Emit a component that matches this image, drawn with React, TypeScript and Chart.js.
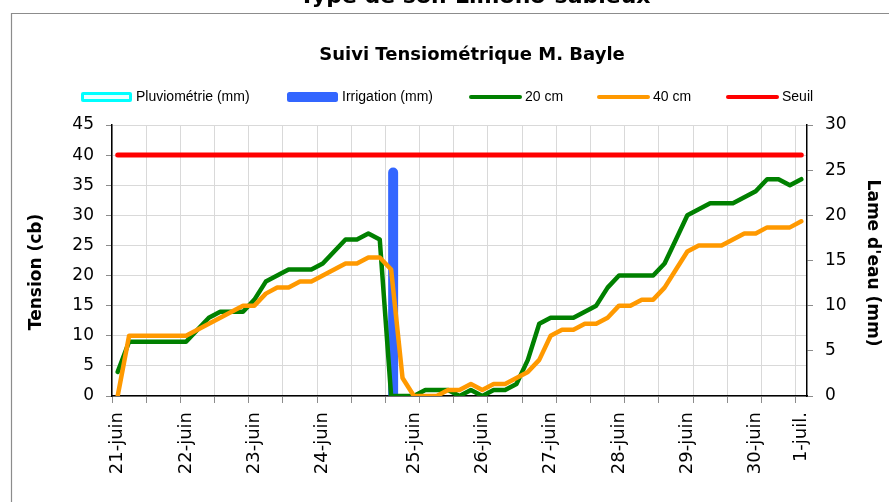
import React, { useEffect, useRef } from 'react';
import { Chart, registerables } from 'chart.js';

Chart.register(...registerables);

// 61 measurement slots (category axis); labels only where the date changes
const categories: string[] = [
  '21-juin', '', '', '', '', '', '22-juin', '', '', '',
  '', '', '23-juin', '', '', '', '', '', '24-juin', '',
  '', '', '', '', '', '', '25-juin', '', '', '',
  '', '', '26-juin', '', '', '', '', '', '27-juin', '',
  '', '', '', '', '28-juin', '', '', '', '', '',
  '29-juin', '', '', '', '', '', '30-juin', '', '', '',
  '1-juil.',
];

const tension20: number[] = [
  4, 9, 9, 9, 9, 9, 9, 11, 13, 14,
  14, 14, 16, 19, 20, 21, 21, 21, 22, 24,
  26, 26, 27, 26, 0, 0, 0, 1, 1, 1,
  0, 1, 0, 1, 1, 2, 6, 12, 13, 13,
  13, 14, 15, 18, 20, 20, 20, 20, 22, 26,
  30, 31, 32, 32, 32, 33, 34, 36, 36, 35,
  36,
];

const tension40: number[] = [
  0, 10, 10, 10, 10, 10, 10, 11, 12, 13,
  14, 15, 15, 17, 18, 18, 19, 19, 20, 21,
  22, 22, 23, 23, 21, 3, 0, 0, 0, 1,
  1, 2, 1, 2, 2, 3, 4, 6, 10, 11,
  11, 12, 12, 13, 15, 15, 16, 16, 18, 21,
  24, 25, 25, 25, 26, 27, 27, 28, 28, 28,
  29,
];

const seuil: number[] = [
  40, 40, 40, 40, 40, 40, 40, 40, 40, 40,
  40, 40, 40, 40, 40, 40, 40, 40, 40, 40,
  40, 40, 40, 40, 40, 40, 40, 40, 40, 40,
  40, 40, 40, 40, 40, 40, 40, 40, 40, 40,
  40, 40, 40, 40, 40, 40, 40, 40, 40, 40,
  40, 40, 40, 40, 40, 40, 40, 40, 40, 40,
  40,
];

const pluviometrie: number[] = [
  0, 0, 0, 0, 0, 0, 0, 0, 0, 0,
  0, 0, 0, 0, 0, 0, 0, 0, 0, 0,
  0, 0, 0, 0, 0, 0, 0, 0, 0, 0,
  0, 0, 0, 0, 0, 0, 0, 0, 0, 0,
  0, 0, 0, 0, 0, 0, 0, 0, 0, 0,
  0, 0, 0, 0, 0, 0, 0, 0, 0, 0,
  0,
];

const irrigation: (number | null)[] = [
  null, null, null, null, null, null, null, null, null, null,
  null, null, null, null, null, null, null, null, null, null,
  null, null, null, null, 25.3, null, null, null, null, null,
  null, null, null, null, null, null, null, null, null, null,
  null, null, null, null, null, null, null, null, null, null,
  null, null, null, null, null, null, null, null, null, null,
  null,
];

const leftTicks = { min: 0, max: 45, step: 5 };
const rightTicks = { min: 0, max: 30, step: 5 };

const COLORS = {
  pluvio: '#00FFFF',
  irrig: '#3366FF',
  g20: '#008000',
  g40: '#FF9900',
  seuil: '#FF0000',
};

const AXIS_FONT = 'DejaVu Sans';
const LEGEND_FONT = 'Liberation Sans';

const decorPlugin = {
  id: 'decor',
  beforeDraw(chart: any) {
    const ctx = chart.ctx as CanvasRenderingContext2D;
    ctx.save();
    ctx.fillStyle = '#ffffff';
    ctx.fillRect(0, 0, chart.width, chart.height);

    // frame of the chart object
    ctx.strokeStyle = '#8c8c8c';
    ctx.lineWidth = 1.2;
    ctx.beginPath();
    ctx.moveTo(11.5, chart.height + 5);
    ctx.lineTo(11.5, 13.5);
    ctx.lineTo(chart.width + 5, 13.5);
    ctx.stroke();

    // partially hidden sheet heading
    ctx.fillStyle = '#000';
    ctx.textAlign = 'center';
    ctx.textBaseline = 'alphabetic';
    ctx.font = `bold 22px "${AXIS_FONT}"`;
    ctx.fillText('Type de sol: Limono-sableux', 475, 3);

    // chart title
    ctx.font = `bold 18px "${AXIS_FONT}"`;
    ctx.fillText('Suivi Tensiométrique M. Bayle', 472, 60);

    // legend
    const ly = 97;
    ctx.fillStyle = COLORS.pluvio;
    ctx.beginPath();
    (ctx as any).roundRect(81, 92, 51, 10, 2);
    ctx.fill();
    ctx.fillStyle = '#eaffff';
    ctx.fillRect(84, 95, 45, 4);
    ctx.fillStyle = COLORS.irrig;
    ctx.beginPath();
    (ctx as any).roundRect(287, 92, 51, 10, 2.5);
    ctx.fill();
    const lineItems: [number, string][] = [
      [470, COLORS.g20],
      [598, COLORS.g40],
      [727, COLORS.seuil],
    ];
    ctx.lineWidth = 4;
    ctx.lineCap = 'round';
    for (const [x, c] of lineItems) {
      ctx.strokeStyle = c;
      ctx.beginPath();
      ctx.moveTo(x + 1, ly);
      ctx.lineTo(x + 50, ly);
      ctx.stroke();
    }
    ctx.fillStyle = '#000';
    ctx.textAlign = 'left';
    ctx.textBaseline = 'middle';
    ctx.font = `14px "${LEGEND_FONT}"`;
    ctx.fillText('Pluviométrie (mm)', 136, ly);
    ctx.fillText('Irrigation (mm)', 342, ly);
    ctx.fillText('20 cm', 525, ly);
    ctx.fillText('40 cm', 653, ly);
    ctx.fillText('Seuil', 782, ly);

    // axis titles
    ctx.font = `bold 17px "${AXIS_FONT}"`;
    ctx.textAlign = 'center';
    ctx.save();
    ctx.translate(37, 272);
    ctx.rotate(-Math.PI / 2);
    ctx.fillText('Tension (cb)', 0, 0);
    ctx.restore();
    ctx.save();
    ctx.translate(872, 263);
    ctx.rotate(Math.PI / 2);
    ctx.fillText("Lame d'eau (mm)", 0, 0);
    ctx.restore();

    ctx.restore();
  },
};

export default function App() {
  const canvasRef = useRef<HTMLCanvasElement | null>(null);

  useEffect(() => {
    const canvas = canvasRef.current;
    if (!canvas) return;
    const gridColor = '#d9d9d9';
    const tickColor = '#8c8c8c';
    const chart = new Chart(canvas, {
      type: 'bar',
      data: {
        labels: categories,
        datasets: [
          {
            type: 'line',
            label: 'Seuil',
            data: seuil,
            yAxisID: 'y',
            borderColor: COLORS.seuil,
            backgroundColor: COLORS.seuil,
            borderWidth: 5,
            pointRadius: 0,
            borderCapStyle: 'round',
            borderJoinStyle: 'round',
            order: 0,
          },
          {
            type: 'line',
            label: '40 cm',
            data: tension40,
            yAxisID: 'y',
            borderColor: COLORS.g40,
            backgroundColor: COLORS.g40,
            borderWidth: 4.5,
            pointRadius: 0,
            borderCapStyle: 'round',
            borderJoinStyle: 'round',
            order: 1,
          },
          {
            type: 'line',
            label: '20 cm',
            data: tension20,
            yAxisID: 'y',
            borderColor: COLORS.g20,
            backgroundColor: COLORS.g20,
            borderWidth: 4.5,
            pointRadius: 0,
            borderCapStyle: 'round',
            borderJoinStyle: 'round',
            order: 2,
          },
          {
            type: 'bar',
            label: 'Pluviométrie (mm)',
            data: pluviometrie,
            yAxisID: 'y1',
            backgroundColor: COLORS.pluvio,
            borderWidth: 0,
            categoryPercentage: 0.7,
            barPercentage: 2.5,
            order: 3,
          },
          {
            type: 'bar',
            label: 'Irrigation (mm)',
            data: irrigation,
            yAxisID: 'y1',
            backgroundColor: COLORS.irrig,
            borderWidth: 0,
            borderRadius: 5,
            categoryPercentage: 0.7,
            barPercentage: 2.5,
            order: 4,
          },
        ],
      } as any,
      options: {
        responsive: false,
        animation: false,
        layout: { padding: { top: 125, left: 0, right: 0, bottom: 0 } },
        plugins: {
          legend: { display: false },
          title: { display: false },
          tooltip: { enabled: false },
        },
        scales: {
          x: {
            type: 'category',
            offset: true,
            grid: {
              offset: true,
              color: (c: any) => (c.index % 3 === 0 ? gridColor : 'rgba(0,0,0,0)'),
              tickColor: (c: any) => (c.index % 3 === 0 ? tickColor : 'rgba(0,0,0,0)'),
              tickLength: 7,
              lineWidth: 1,
            },
            border: { color: '#000', width: 1.5 },
            ticks: {
              autoSkip: false,
              minRotation: 90,
              maxRotation: 90,
              padding: 9,
              color: '#000',
              font: { family: AXIS_FONT, size: 18 },
            },
            afterFit: (s: any) => {
              s.height = 106;
            },
          },
          y: {
            position: 'left',
            min: leftTicks.min,
            max: leftTicks.max,
            ticks: {
              stepSize: leftTicks.step,
              padding: 12,
              color: '#000',
              font: { family: AXIS_FONT, size: 17 },
            },
            grid: { color: gridColor, tickColor: tickColor, tickLength: 6, lineWidth: 1 },
            border: { color: '#000', width: 1.5 },
            afterFit: (s: any) => {
              s.width = 112;
            },
          },
          y1: {
            position: 'right',
            min: rightTicks.min,
            max: rightTicks.max,
            ticks: {
              stepSize: rightTicks.step,
              padding: 12,
              color: '#000',
              font: { family: AXIS_FONT, size: 17 },
            },
            grid: { drawOnChartArea: false, color: tickColor, tickColor: tickColor, tickLength: 6 },
            border: { color: '#000', width: 1.5 },
            afterFit: (s: any) => {
              s.width = 82;
            },
          },
        },
      } as any,
      plugins: [decorPlugin],
    });
    return () => chart.destroy();
  }, []);

  return (
    <div
      style={{
        position: 'fixed',
        left: 0,
        top: 0,
        width: 889,
        height: 502,
        background: '#fff',
        overflow: 'hidden',
      }}
    >
      <canvas
        ref={canvasRef}
        width={889}
        height={502}
        style={{ display: 'block', width: 889, height: 502 }}
      />
    </div>
  );
}
